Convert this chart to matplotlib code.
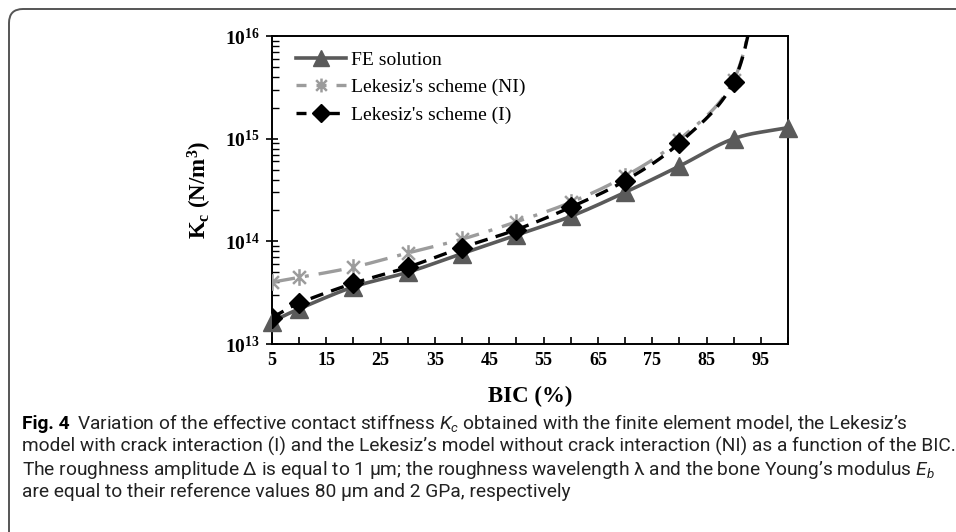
import numpy as np
import matplotlib
matplotlib.use("Agg")
import matplotlib.pyplot as plt
from matplotlib import font_manager
from matplotlib.path import Path
from matplotlib.patches import FancyBboxPatch
from matplotlib.transforms import IdentityTransform
from matplotlib.ticker import FixedLocator, LogLocator, NullFormatter, FuncFormatter

# caption font: a plain sans, sized later to fill the box width
installed = {f.name for f in font_manager.fontManager.ttflist}
cap_name = next((n for n in ["Roboto", "Lato", "Open Sans", "Noto Sans"]
                 if n in installed), "DejaVu Sans")

plt.rcParams["font.family"] = ["Liberation Serif", "DejaVu Serif"]
plt.rcParams["mathtext.fontset"] = "custom"
plt.rcParams["mathtext.rm"] = "Liberation Serif"
plt.rcParams["mathtext.bf"] = "Liberation Serif:bold"
plt.rcParams["mathtext.it"] = cap_name + ":italic"

# data (BIC in %, Kc in N/m^3)
bic = [5, 10, 20, 30, 40, 50, 60, 70, 80, 90, 100]
kc_fe = [1.65e13, 2.2e13, 3.6e13, 5.0e13, 7.6e13, 1.15e14, 1.75e14,
         3.0e14, 5.4e14, 1.0e15, 1.28e15]

bic_lek = [5, 10, 20, 30, 40, 50, 60, 70, 80, 90, 95]
kc_ni = [4.0e13, 4.45e13, 5.6e13, 7.7e13, 1.05e14, 1.55e14, 2.4e14,
         4.3e14, 9.8e14, 3.7e15, 4.2e16]
kc_i = [1.8e13, 2.5e13, 3.9e13, 5.6e13, 8.7e13, 1.3e14, 2.15e14,
        3.9e14, 9.1e14, 3.6e15, 4.0e16]

x_ticks = [5, 15, 25, 35, 45, 55, 65, 75, 85, 95]

caption_lines = [
    "Variation of the effective contact stiffness $K_c$ obtained with the finite element model, the Lekesiz\u2019s",
    "model with crack interaction (I) and the Lekesiz\u2019s model without crack interaction (NI) as a function of the BIC.",
    "The roughness amplitude \u0394 is equal to 1 \u00b5m; the roughness wavelength \u03bb and the bone Young\u2019s modulus $E_b$",
    "are equal to their reference values 80 \u00b5m and 2 GPa, respectively",
]


def smooth(x, y, n=20):
    """Catmull-Rom curve through the points, done in log space."""
    x = np.asarray(x, float)
    ly = np.log10(np.asarray(y, float))
    px = np.concatenate([[2 * x[0] - x[1]], x, [2 * x[-1] - x[-2]]])
    py = np.concatenate([[2 * ly[0] - ly[1]], ly, [2 * ly[-1] - ly[-2]]])
    xs, ys = [], []
    for i in range(1, len(px) - 2):
        t = np.linspace(0, 1, n, endpoint=False)
        for p, out in ((px, xs), (py, ys)):
            p0, p1, p2, p3 = p[i - 1], p[i], p[i + 1], p[i + 2]
            out.extend(0.5 * (2 * p1 + (-p0 + p2) * t
                              + (2 * p0 - 5 * p1 + 4 * p2 - p3) * t ** 2
                              + (-p0 + 3 * p1 - 3 * p2 + p3) * t ** 3))
    xs.append(x[-1])
    ys.append(ly[-1])
    return np.array(xs), 10 ** np.array(ys)


star = Path([(-1, -1), (1, 1), (-1, 1), (1, -1), (0, -1.3), (0, 1.3)],
            [Path.MOVETO, Path.LINETO, Path.MOVETO, Path.LINETO,
             Path.MOVETO, Path.LINETO])

fig = plt.figure(figsize=(9.56, 5.32), dpi=100)
W, H = 956, 532
ax = fig.add_axes([272 / W, 1 - 344 / H, 516 / W, 308 / H])

c_fe, c_ni, c_i = "#5a5a5a", "#9c9c9c", "#000000"

sx, sy = smooth(bic_lek, kc_ni)
ax.plot(sx, sy, color=c_ni, lw=2.4, dashes=(7, 3, 1.2, 3), zorder=2)
ax.plot(bic_lek, kc_ni, ls="none", marker=star, ms=12, mew=1.8,
        color=c_ni, zorder=3)

sx, sy = smooth(bic, kc_fe)
ax.plot(sx, sy, color=c_fe, lw=2.6, zorder=4, clip_on=False)
ax.plot(bic, kc_fe, ls="none", marker="^", ms=13, color=c_fe,
        zorder=5, clip_on=False)

sx, sy = smooth(bic_lek, kc_i)
ax.plot(sx, sy, color=c_i, lw=2.4, dashes=(4, 2.5), zorder=6)
ax.plot(bic_lek, kc_i, ls="none", marker="D", ms=10.5, color=c_i, zorder=7)

# legend handles
ax.plot([], [], color=c_fe, lw=2.6, marker="^", ms=12, label="FE solution")
ax.plot([], [], color=c_ni, lw=2.4, dashes=(3, 3), marker=star, ms=10,
        mew=1.8, label="Lekesiz's scheme (NI)")
ax.plot([], [], color=c_i, lw=2.4, dashes=(3, 2), marker="D", ms=9,
        label="Lekesiz's scheme (I)")
handles, labels = ax.get_legend_handles_labels()
ax.legend(handles[-3:], labels[-3:], loc="upper left", frameon=False,
          fontsize=14, handlelength=2.6, handletextpad=0.25,
          labelspacing=0.5, borderaxespad=0.3, bbox_to_anchor=(0.02, 0.995))

ax.set_yscale("log")
ax.set_xlim(5, 100)
ax.set_ylim(1e13, 1e16)

ax.xaxis.set_major_locator(FixedLocator(x_ticks))
ax.xaxis.set_minor_locator(FixedLocator(list(range(5, 101, 5))))
ax.tick_params(axis="x", which="both", direction="in", length=5, width=1.2,
               labelsize=13, pad=6)
for lab in ax.get_xticklabels():
    lab.set_fontweight("bold")

ax.yaxis.set_major_locator(LogLocator(base=10, numticks=10))
ax.yaxis.set_minor_locator(LogLocator(base=10, subs=np.arange(2, 10), numticks=10))
ax.yaxis.set_minor_formatter(NullFormatter())
ax.yaxis.set_major_formatter(
    FuncFormatter(lambda v, p: r"$\mathbf{10^{%d}}$" % round(np.log10(v))))
ax.tick_params(axis="y", which="major", direction="inout", length=9,
               width=1.2, labelsize=14, pad=4)
ax.tick_params(axis="y", which="minor", direction="in", length=5, width=1.0)

for s in ax.spines.values():
    s.set_linewidth(1.4)

ax.set_xlabel("BIC (%)", fontsize=16.5, fontweight="bold", labelpad=12)
ax.set_ylabel(r"$\mathbf{K_c}$ (N/m$\mathbf{^3}$)", fontsize=16.5,
              fontweight="bold", labelpad=8)

# rounded frame round the figure and its caption
frame = FancyBboxPatch((9, -30), 1000, 523 + 30, boxstyle="round,pad=0,rounding_size=14",
                       transform=IdentityTransform(), fill=False,
                       edgecolor="#555555", lw=1.4)
fig.patches.append(frame)

# caption: size the font so the longest line fills the box
cap_font = [cap_name, "DejaVu Sans"]
renderer = fig.canvas.get_renderer()
cap_size = 12.0
probe = fig.text(0, 0, caption_lines[1], fontsize=cap_size, family=cap_font)
width = probe.get_window_extent(renderer=renderer).width
probe.remove()
cap_size *= 928 / width

y0 = 1 - 429 / H
dy = 22.8 / H
t = fig.text(22 / W, y0, "Fig. 4", fontsize=cap_size, fontweight="bold",
             family=cap_font, va="baseline")
bb = t.get_window_extent(renderer=renderer)
fig.text((bb.x1 + 7) / W, y0, caption_lines[0], fontsize=cap_size,
         family=cap_font, va="baseline", color="#222222")
for i, line in enumerate(caption_lines[1:], start=1):
    fig.text(22 / W, y0 - i * dy, line, fontsize=cap_size, family=cap_font,
             va="baseline", color="#222222")

fig.savefig("out.png", dpi=100)
